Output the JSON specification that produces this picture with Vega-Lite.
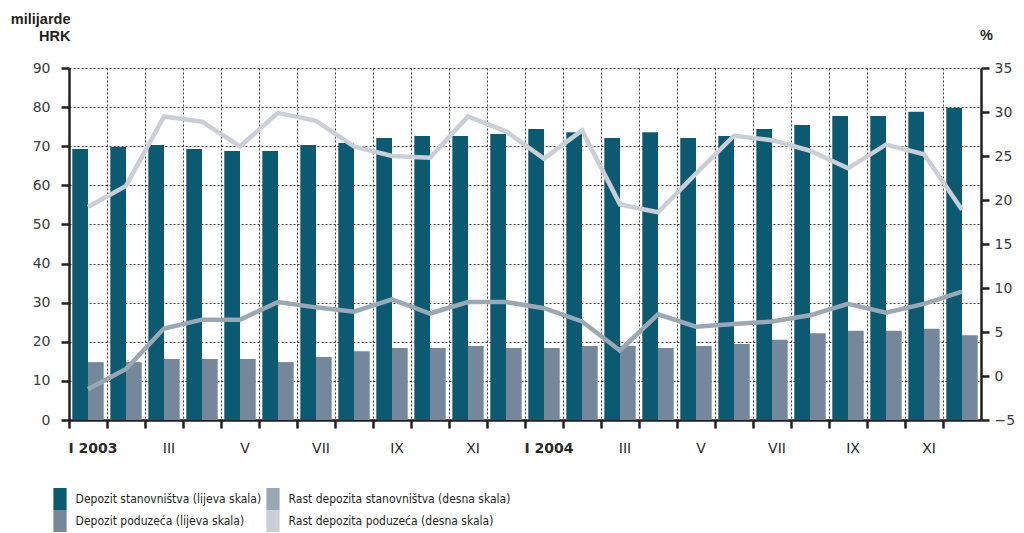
{
  "$schema": "https://vega.github.io/schema/vega-lite/v6.json",
  "width": 912,
  "height": 352,
  "autosize": {"type": "none"},
  "padding": {"left": 69, "top": 68, "right": 43, "bottom": 113},
  "background": "white",
  "config": {
    "view": {"stroke": null},
    "axis": {
      "domainColor": "#231f20",
      "domainWidth": 2.5,
      "tickColor": "#231f20",
      "tickWidth": 2.5,
      "tickSize": 8,
      "labelColor": "#3a3a3a",
      "labelFont": "DejaVu Sans",
      "labelFontSize": 14,
      "gridColor": "#231f20",
      "gridDash": [2, 2],
      "gridWidth": 1,
      "gridOpacity": 0.85,
      "titleFont": "Liberation Sans",
      "titleFontWeight": "bold",
      "titleFontSize": 14.5,
      "titleColor": "#231f20"
    }
  },
  "data": {
    "values": [
      {"m": "2003-01", "dep_st": 69.3, "dep_pod": 14.8, "rast_st": -1.5, "rast_pod": 19.2},
      {"m": "2003-02", "dep_st": 69.8, "dep_pod": 14.8, "rast_st": 0.8, "rast_pod": 21.6},
      {"m": "2003-03", "dep_st": 70.3, "dep_pod": 15.6, "rast_st": 5.4, "rast_pod": 29.5},
      {"m": "2003-04", "dep_st": 69.3, "dep_pod": 15.6, "rast_st": 6.4, "rast_pod": 28.9},
      {"m": "2003-05", "dep_st": 68.8, "dep_pod": 15.6, "rast_st": 6.4, "rast_pod": 26.1},
      {"m": "2003-06", "dep_st": 68.8, "dep_pod": 14.8, "rast_st": 8.4, "rast_pod": 29.9},
      {"m": "2003-07", "dep_st": 70.3, "dep_pod": 16.1, "rast_st": 7.8, "rast_pod": 29.0},
      {"m": "2003-08", "dep_st": 70.8, "dep_pod": 17.6, "rast_st": 7.3, "rast_pod": 26.1},
      {"m": "2003-09", "dep_st": 72.1, "dep_pod": 18.4, "rast_st": 8.7, "rast_pod": 25.0},
      {"m": "2003-10", "dep_st": 72.6, "dep_pod": 18.4, "rast_st": 7.1, "rast_pod": 24.8},
      {"m": "2003-11", "dep_st": 72.6, "dep_pod": 18.9, "rast_st": 8.4, "rast_pod": 29.5},
      {"m": "2003-12", "dep_st": 73.1, "dep_pod": 18.4, "rast_st": 8.4, "rast_pod": 27.8},
      {"m": "2004-01", "dep_st": 74.4, "dep_pod": 18.4, "rast_st": 7.7, "rast_pod": 24.7},
      {"m": "2004-02", "dep_st": 73.6, "dep_pod": 18.9, "rast_st": 6.2, "rast_pod": 27.9},
      {"m": "2004-03", "dep_st": 72.1, "dep_pod": 18.9, "rast_st": 2.9, "rast_pod": 19.5},
      {"m": "2004-04", "dep_st": 73.6, "dep_pod": 18.4, "rast_st": 7.0, "rast_pod": 18.6},
      {"m": "2004-05", "dep_st": 72.1, "dep_pod": 18.9, "rast_st": 5.6, "rast_pod": 23.0},
      {"m": "2004-06", "dep_st": 72.6, "dep_pod": 19.4, "rast_st": 5.9, "rast_pod": 27.3},
      {"m": "2004-07", "dep_st": 74.4, "dep_pod": 20.5, "rast_st": 6.2, "rast_pod": 26.8},
      {"m": "2004-08", "dep_st": 75.4, "dep_pod": 22.2, "rast_st": 6.9, "rast_pod": 25.6},
      {"m": "2004-09", "dep_st": 77.7, "dep_pod": 22.8, "rast_st": 8.2, "rast_pod": 23.6},
      {"m": "2004-10", "dep_st": 77.7, "dep_pod": 22.8, "rast_st": 7.2, "rast_pod": 26.3},
      {"m": "2004-11", "dep_st": 78.8, "dep_pod": 23.3, "rast_st": 8.2, "rast_pod": 25.2},
      {"m": "2004-12", "dep_st": 79.8, "dep_pod": 21.7, "rast_st": 9.6, "rast_pod": 18.9}
    ]
  },
  "encoding": {
    "x": {
      "field": "m",
      "type": "nominal",
      "scale": {"type": "band", "paddingInner": 0, "paddingOuter": 0},
      "axis": {
        "title": null,
        "grid": true,
        "bandPosition": 0,
        "labelAngle": 0,
        "labelOffset": 5,
        "labelPadding": 13,
        "labelColor": "#2a2a2a",
        "labelExpr": "(toNumber(slice(datum.value,5)) % 2 == 0) ? '' : (['I','II','III','IV','V','VI','VII','VIII','IX','X','XI','XII'][toNumber(slice(datum.value,5))-1] + (slice(datum.value,5) == '01' ? ' ' + slice(datum.value,0,4) : ''))",
        "labelFontWeight": {"condition": {"test": "slice(datum.value,5) == '01'", "value": "bold"}, "value": "normal"}
      }
    },
    "color": {
      "field": "series",
      "type": "nominal",
      "scale": {
        "domain": ["dep_st", "dep_pod", "rast_st", "rast_pod"],
        "range": ["#0b5a72", "#75889b", "#9aa8b6", "#c9ced7"]
      },
      "legend": {
        "title": null,
        "orient": "none",
        "legendX": -20,
        "legendY": 420,
        "columns": 2,
        "columnPadding": 0,
        "rowPadding": 0,
        "symbolType": "M-0.6,-1H0.6V1H-0.6Z",
        "symbolSize": 484,
        "symbolStrokeWidth": 0,
        "labelOffset": 4.6,
        "labelFont": "'DejaVu Sans Condensed', 'Liberation Sans', sans-serif",
        "labelFontSize": 12,
        "labelColor": "#231f20",
        "labelLimit": 400,
        "labelExpr": "datum.value == 'dep_st' ? 'Depozit stanovništva (lijeva skala)' : datum.value == 'dep_pod' ? 'Depozit poduzeća (lijeva skala)' : datum.value == 'rast_st' ? 'Rast depozita stanovništva (desna skala)' : 'Rast depozita poduzeća (desna skala)'"
      }
    }
  },
  "layer": [
    {
      "transform": [{"fold": ["dep_st", "dep_pod"], "as": ["series", "value"]}],
      "mark": {"type": "bar"},
      "encoding": {
        "xOffset": {
          "field": "series",
          "type": "nominal",
          "scale": {"domain": ["dep_st", "dep_pod"], "paddingInner": 0, "paddingOuter": 0.21}
        },
        "y": {
          "field": "value",
          "type": "quantitative",
          "scale": {"domain": [0, 90], "nice": false},
          "axis": {
            "title": ["milijarde", "HRK"],
            "titleAngle": 0,
            "titleAlign": "right",
            "titleBaseline": "alphabetic",
            "titleX": 1,
            "titleY": -45,
            "titleLineHeight": 17,
            "values": [0, 10, 20, 30, 40, 50, 60, 70, 80, 90],
            "grid": true,
            "labelPadding": 11
          }
        }
      }
    },
    {
      "transform": [{"fold": ["rast_st", "rast_pod"], "as": ["series", "value"]}],
      "mark": {"type": "line", "strokeWidth": 4.5},
      "encoding": {
        "y": {
          "field": "value",
          "type": "quantitative",
          "scale": {"domain": [-5, 35], "nice": false},
          "axis": {
            "orient": "right",
            "title": "%",
            "titleAngle": 0,
            "titleAlign": "center",
            "titleBaseline": "alphabetic",
            "titleX": 5,
            "titleY": -29,
            "values": [-5, 0, 5, 10, 15, 20, 25, 30, 35],
            "grid": false,
            "labelPadding": 5
          }
        }
      }
    }
  ],
  "resolve": {"scale": {"y": "independent"}, "axis": {"y": "independent"}}
}
